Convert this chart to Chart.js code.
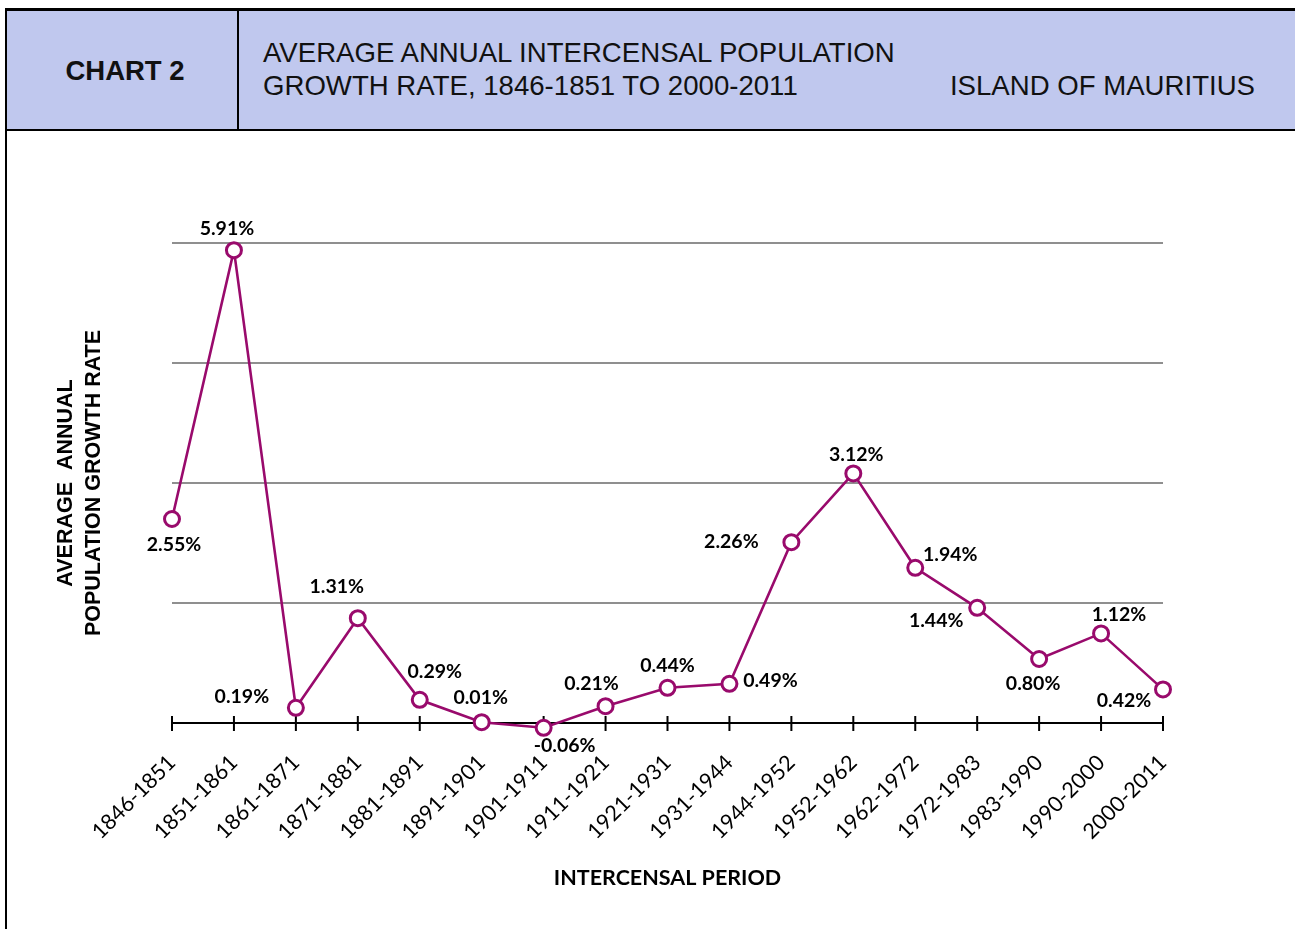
<!DOCTYPE html>
<html>
<head>
<meta charset="utf-8">
<script src="https://cdn.jsdelivr.net/npm/chart.js@4.4.1/dist/chart.umd.min.js"></script>
<style>
    body { margin: 0; width: 1295px; height: 929px; overflow: hidden; background: #fff; position: relative; }
    .rule { position: absolute; background: #000; }
    #head-bg { position: absolute; left: 7px; top: 11px; width: 1288px; height: 118px; background: #c0c8ee; }
    #chart-no { position: absolute; left: 7px; top: 12px; width: 236px; height: 118px; display: flex; align-items: center; justify-content: center; font: bold 27.5px "Liberation Sans", Arial, sans-serif; color: #111; }
    .head-txt { position: absolute; font: 27.6px "Liberation Sans", Arial, sans-serif; color: #111; line-height: 30px; white-space: nowrap; }
    #wrap { position: absolute; left: 7px; top: 131px; width: 1288px; height: 798px; }
</style>
</head>
<body>
<div id="head-bg"></div>
<div class="rule" style="left:5px;top:8px;width:1290px;height:3px"></div>
<div class="rule" style="left:5px;top:8px;width:2px;height:921px"></div>
<div class="rule" style="left:7px;top:129px;width:1288px;height:2px"></div>
<div class="rule" style="left:237px;top:11px;width:2px;height:118px"></div>
<div id="chart-no">CHART 2</div>
<div class="head-txt" style="left:263px;top:38px">AVERAGE ANNUAL INTERCENSAL POPULATION</div>
<div class="head-txt" style="left:263px;top:71px">GROWTH RATE, 1846-1851 TO 2000-2011</div>
<div class="head-txt" style="right:40px;top:71px">ISLAND OF MAURITIUS</div>
<div id="wrap"><canvas id="chart" width="1288" height="798"></canvas></div>

<script>
// Intercensal periods and average annual growth rate (%)
const periods = ["1846-1851", "1851-1861", "1861-1871", "1871-1881", "1881-1891", "1891-1901",
    "1901-1911", "1911-1921", "1921-1931", "1931-1944", "1944-1952", "1952-1962",
    "1962-1972", "1972-1983", "1983-1990", "1990-2000", "2000-2011"];
const growthRates = [2.55, 5.91, 0.19, 1.31, 0.29, 0.01, -0.06, 0.21, 0.44, 0.49, 2.26, 3.12,
    1.94, 1.44, 0.80, 1.12, 0.42];

// where each value label sits relative to its point (px)
const labelOffsets = [[2, 26], [-7, -21], [-54, -11], [-21, -31], [15, -28], [-1, -24], [21, 18],
    [-14, -22], [0, -22], [41, -3], [-60, 0], [3, -19], [35, -13], [-41, 13], [-6, 25], [18, -19], [-39, 11]];

const lineColor = '#990a6c';

// black zero axis with tick marks crossing it
const zeroAxis = {
    id: 'zeroAxis',
    beforeDatasetsDraw(chart) {
        const { ctx, scales: { x, y } } = chart;
        const y0 = y.getPixelForValue(0);
        ctx.save();
        ctx.strokeStyle = '#000';
        ctx.lineWidth = 2;
        ctx.beginPath();
        ctx.moveTo(x.left, y0);
        ctx.lineTo(x.right, y0);
        x.ticks.forEach((t, i) => {
            const px = x.getPixelForTick(i);
            ctx.moveTo(px, y0 - 7);
            ctx.lineTo(px, y0 + 8);
        });
        ctx.stroke();
        ctx.restore();
    }
};

// percentage labels next to the points
const valueLabels = {
    id: 'valueLabels',
    afterDatasetsDraw(chart) {
        const { ctx } = chart;
        const meta = chart.getDatasetMeta(0);
        ctx.save();
        ctx.font = "bold 19.5px Lato, sans-serif";
        ctx.fillStyle = '#000';
        ctx.textAlign = 'center';
        ctx.textBaseline = 'middle';
        meta.data.forEach((pt, i) => {
            const [dx, dy] = labelOffsets[i];
            ctx.fillText(growthRates[i].toFixed(2) + '%', pt.x + dx, pt.y + dy);
        });
        ctx.restore();
    }
};

new Chart(document.getElementById('chart'), {
    type: 'line',
    data: {
        labels: periods,
        datasets: [{
            data: growthRates,
            borderColor: lineColor,
            borderWidth: 2.6,
            pointRadius: 7.5,
            pointBorderWidth: 3,
            pointBackgroundColor: '#fff',
            pointBorderColor: lineColor,
            tension: 0,
            clip: false
        }]
    },
    options: {
        responsive: false,
        animation: false,
        devicePixelRatio: 1,
        layout: { padding: { left: 40, top: 112, right: 132, bottom: 20 } },
        plugins: {
            legend: { display: false },
            tooltip: { enabled: false }
        },
        scales: {
            x: {
                offset: false,
                grid: { display: false, drawTicks: false },
                border: { display: false },
                ticks: {
                    autoSkip: false,
                    minRotation: 45,
                    maxRotation: 45,
                    padding: 27,
                    color: '#000',
                    font: { family: 'Lato', size: 21.5 }
                },
                title: {
                    display: true,
                    text: 'INTERCENSAL PERIOD',
                    color: '#000',
                    font: { family: 'Lato', size: 21.5, weight: 'bold' },
                    padding: { top: 0, bottom: 18 }
                },
                afterFit: (scale) => { scale.height = 186; }
            },
            y: {
                min: 0,
                max: 6,
                grid: {
                    drawTicks: false,
                    lineWidth: 2,
                    color: (c) => c.tick && c.tick.value === 0 ? 'rgba(0,0,0,0)' : '#8f8f8f'
                },
                border: { display: false },
                ticks: { display: false, stepSize: 1.5 },
                title: {
                    display: true,
                    text: ['AVERAGE  ANNUAL', 'POPULATION GROWTH RATE'],
                    color: '#000',
                    font: { family: "'Liberation Sans', Arial", size: 21.5, weight: 'bold', lineHeight: 1.3 },
                    padding: { top: 5, bottom: 0 }
                },
                afterFit: (scale) => { scale.width = 125; }
            }
        }
    },
    plugins: [zeroAxis, valueLabels]
});
</script>
</body>
</html>
